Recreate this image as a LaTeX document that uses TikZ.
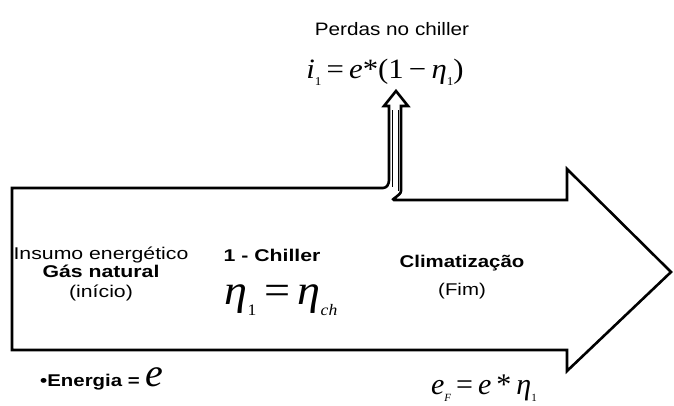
\documentclass[tikz,border=0pt]{standalone}
\usepackage{fontspec}
\usepackage{graphicx}
\setmainfont{Liberation Sans}
\newfontfamily\serifm{Liberation Serif}
\newcommand{\mi}[1]{{\serifm\itshape #1}}
\newcommand{\mysub}[2]{\raisebox{-0.25em}{\fontsize{#1}{#1}\selectfont\serifm #2}}
\newcommand{\wide}[2]{\scalebox{#1}[1]{#2}}
\tikzset{
  outline/.style={draw=black, line width=2.6pt, line join=miter, fill=white},
  lbl/.style={inner sep=0pt, align=center, text=black},
}
\begin{document}
\begin{tikzpicture}[x=1pt,y=-1pt]
\useasboundingbox (0,0) rectangle (674,405);
% main arrow with branch
\draw[outline]
  (12,188) -- (383,188) to[out=0,in=-90] (389,180) -- (389,106) -- (384,106)
  -- (396,91) -- (408,106) -- (401,106) -- (401,191) to[out=-90,in=180] (394,200)
  -- (567,200) -- (567,169) -- (671,272) -- (567,371) -- (567,350) -- (12,350) -- cycle;
% inner lines of small arrow shaft
\draw[line width=0.8pt] (392,110) -- (392,187);
\draw[line width=0.8pt] (398,110) -- (398,191);
% texts
\node[lbl, font=\fontsize{18}{20}\selectfont] (perdas) at (392,29)
  {\wide{1.15}{Perdas no chiller}};
\node[lbl, font=\fontsize{28}{30}\selectfont] (perdaseq) at (385,72)
  {\wide{1.1}{\mi{i}\mysub{12}{1}\,{\serifm =}\,\mi{e}{\serifm *}{\serifm (1}\,{\serifm −}\,\mi{η}\mysub{12}{1}{\serifm )}}};
\node[lbl, font=\fontsize{17}{19}\selectfont] (insumo) at (101,274)
  {\wide{1.25}{Insumo energético}\\[-0.5pt]\wide{1.25}{\bfseries Gás natural}\\[1pt]\wide{1.25}{(início)}};
\node[lbl, font=\bfseries\fontsize{17}{19}\selectfont] (chiller) at (272,255)
  {\wide{1.25}{1 - Chiller}};
\node[lbl, font=\fontsize{42}{44}\selectfont] (eta) at (281,300)
  {\wide{1.1}{\mi{η}\mysub{16}{1}\,{\serifm =}\,\mi{η}\mysub{16}{\itshape ch}}};
\node[lbl, font=\fontsize{17}{28}\selectfont] (clima) at (462,277)
  {\wide{1.2}{\bfseries Climatização}\\\wide{1.2}{(Fim)}};
\node[lbl, anchor=west, font=\fontsize{17}{19}\selectfont] (energia) at (40,379)
  {\wide{1.2}{\bfseries •Energia =}\,\,{\fontsize{40}{40}\selectfont\mi{e}}};
\node[lbl, font=\fontsize{30}{32}\selectfont] (ef) at (484,388)
  {\mi{e}\mysub{11}{\itshape F}\,{\serifm =}\,\mi{e}\,{\serifm *}\,\mi{η}\mysub{11}{1}};
\end{tikzpicture}
\end{document}
